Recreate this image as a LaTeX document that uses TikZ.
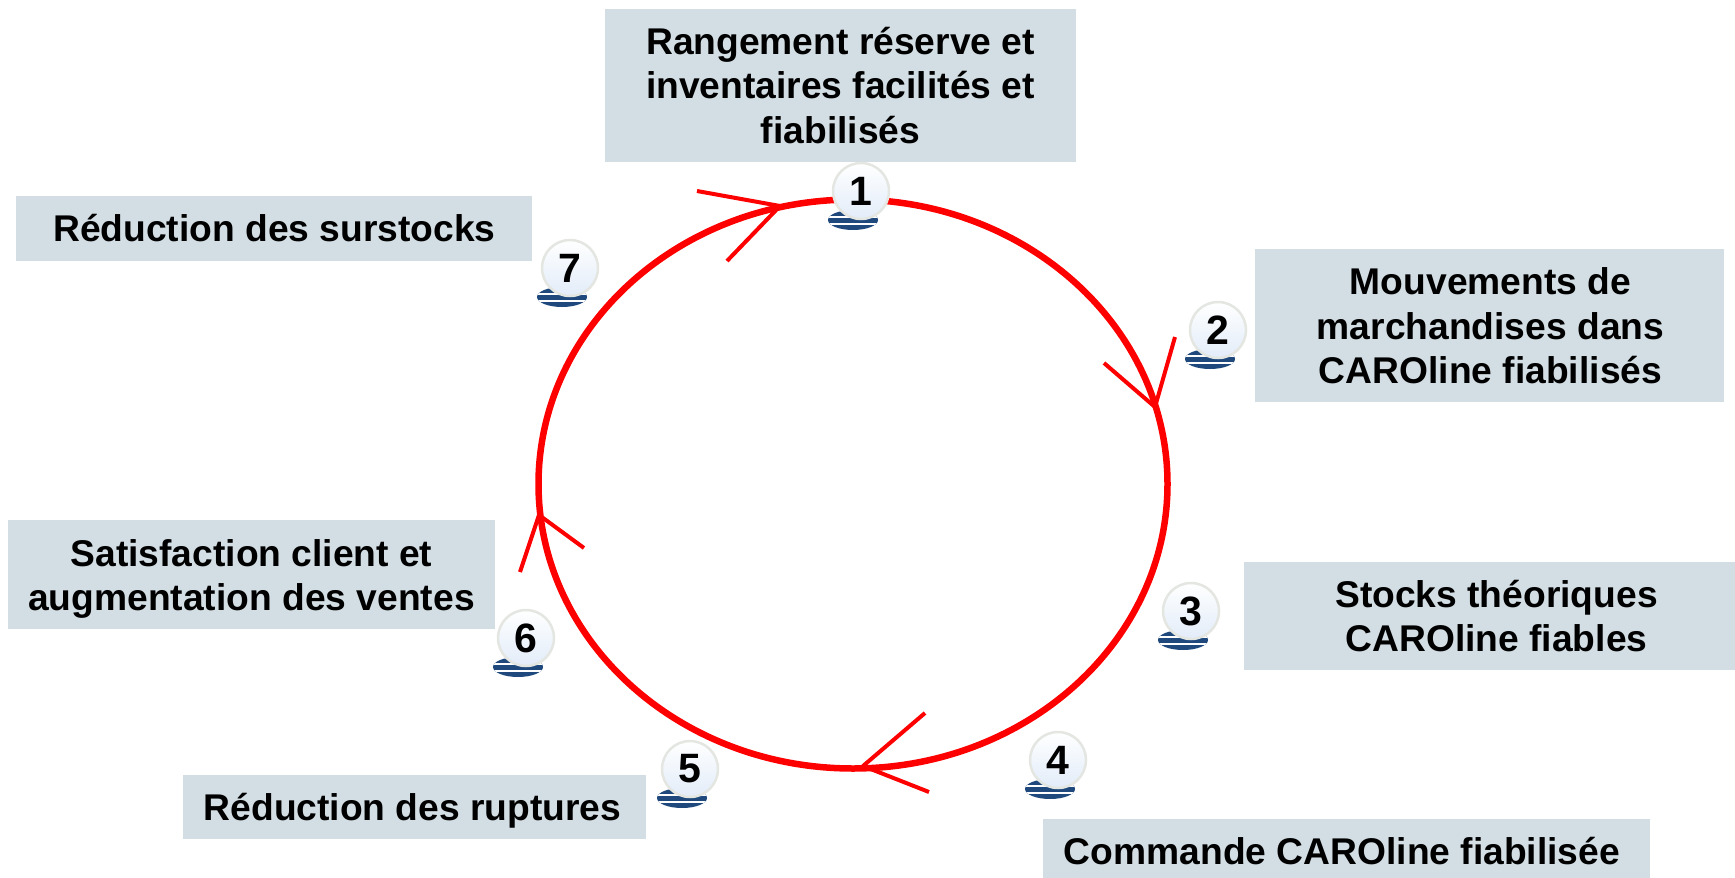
\documentclass[tikz,border=0pt]{standalone}
\usepackage{fontspec}
\setmainfont{Liberation Sans}
\usetikzlibrary{shapes.geometric}

\definecolor{boxgrey}{RGB}{211,222,228}
\definecolor{stripeblue}{RGB}{31,73,125}
\definecolor{ballblue}{RGB}{226,236,249}
\definecolor{ballrim}{RGB}{228,230,226}

\begin{document}
\begin{tikzpicture}[x=1pt,y=-1pt,stripes/.style={path picture={ \draw[white,line width=1.2pt] (path picture bounding box.west) ++(0,-4pt) -- ++(70pt,0) (path picture bounding box.west) ++(0,3pt) -- ++(70pt,0);},
                                      ellipse, fill=stripeblue, inner sep=0pt, minimum width=50pt, minimum height=20pt}]
    \tikzstyle{main}=[fill=boxgrey, inner sep=0pt, align=center, font=\fontsize{37.2}{44.6}\selectfont\bfseries]
    \tikzstyle{ball}=[circle, minimum size=56pt, inner sep=0pt, draw=ballrim, line width=2.5pt, top color=white, bottom color=ballblue, font=\fontsize{41}{41}\selectfont\bfseries]
    \tikzstyle{connect}=[red, line width=4pt]
    \useasboundingbox (0,0) rectangle (1735,878);

      \node[draw=red, line width=6.5pt, ellipse, minimum width=629pt, minimum height=569pt, inner sep=0pt] (ring) at (853,484) {};

      \node[main, minimum width=471pt, minimum height=153pt] (box1) at (840.5,85.5) {Rangement réserve et\\inventaires facilités et\\fiabilisés};
      \node[main, minimum width=469pt, minimum height=153pt] (box2) at (1489.5,325.5) {\rule{0pt}{28pt}\hspace{2pt}Mouvements de\\\hspace{2pt}marchandises dans\\\hspace{2pt}CAROline fiabilisés};
      \node[main, minimum width=491pt, minimum height=108pt] (box3) at (1489.5,616) {\hspace{14pt}Stocks théoriques\\\hspace{14pt}CAROline fiables};
      \fill[boxgrey] (1043,819) rectangle (1650,878);
      \node[font=\fontsize{37.2}{44.6}\selectfont\bfseries, inner sep=0pt] (box4) at (1342,851) {Commande CAROline fiabilisée};
      \node[main, minimum width=463pt, minimum height=64pt] (box5) at (414.5,807) {\rule{0pt}{35pt}Réduction des ruptures\hspace{4pt}};
      \node[main, minimum width=487pt, minimum height=109pt] (box6) at (251.5,574.5) {\rule{0pt}{36pt}Satisfaction client et\\augmentation des ventes};
      \node[main, minimum width=516pt, minimum height=65pt] (box7) at (273.5,228.5) {\hspace{2pt}Réduction des surstocks};

      \coordinate (tip1) at (780,206);
      \coordinate (a1) at (697,191);
      \coordinate (b1) at (727,261);
      \coordinate (tip2) at (1155,407);
      \coordinate (a2) at (1175,337);
      \coordinate (b2) at (1104,363);
      \coordinate (tip3) at (863,766);
      \coordinate (a3) at (925,713);
      \coordinate (b3) at (929,792);
      \coordinate (tip4) at (539,515);
      \coordinate (a4) at (520,572);
      \coordinate (b4) at (584,548);
      \foreach \n in {1,2,3,4}
        \path (a\n) edge [connect] (tip\n)
              (b\n) edge [connect] (tip\n);

      \foreach \n/\x/\y in {1/861/191,2/1218/330,3/1191/611,4/1058/760,5/690/769,6/526/638,7/570/268}{
        \node[stripes] (stripes\n) at (\x-8,\y+29) {};
        \node[ball] (ball\n) at (\x,\y) {\n};
      }
    \end{tikzpicture}
\end{document}
